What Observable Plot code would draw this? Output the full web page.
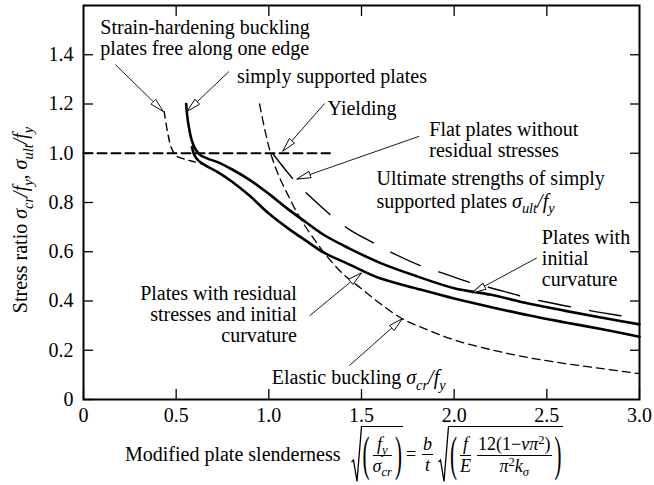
<!DOCTYPE html>
<html><head><meta charset="utf-8">
<script src="https://cdn.jsdelivr.net/npm/d3@7"></script>
<script src="https://cdn.jsdelivr.net/npm/@observablehq/plot@0.6"></script>
<style>
body{margin:0;background:#fff;}
#wrap{position:relative;width:654px;height:485px;font-family:"Liberation Serif","Times New Roman",Times,serif;color:#000;}
#xlab{position:absolute;left:125px;top:426px;height:57px;display:flex;align-items:center;font-size:20px;white-space:nowrap;}
.sq{display:flex;align-items:flex-start;height:57px;}
.sq svg{display:block;flex:none}
.rc{display:flex;align-items:center;height:56px;border-top:1.3px solid #000;padding:0 1px}
.p{display:inline-block;font-size:21px;transform:scaleY(2.3);line-height:1;}
.fr{display:inline-flex;flex-direction:column;align-items:stretch;font-size:18px;line-height:1.12;text-align:center;margin:0 3px}
.fr .n{border-bottom:1px solid #000;padding:0 1px}
sub{font-size:0.7em;vertical-align:-0.3em;line-height:0;font-style:italic}
sup{font-size:0.7em;vertical-align:0.45em;line-height:0}
.eq{margin:0 3px;font-size:18px}
</style></head><body>
<div id="wrap">
<div id="xlab">
 <span class="t">Modified plate slenderness</span>
 <span class="sq" style="margin-left:10px">
   <svg width="11" height="57" viewBox="0 0 11 57"><path d="M0.5,36 L2.5,34 L6,55.5 L10.5,0.7 L11,0.7" fill="none" stroke="#000" stroke-width="1.3"/></svg>
   <span class="rc">
     <span class="p">(</span>
     <span class="fr"><span class="n"><i>f</i><sub>y</sub></span><span class="d"><i>σ</i><sub>cr</sub></span></span>
     <span class="p">)</span>
   </span>
 </span>
 <span class="eq">=</span>
 <span class="fr"><span class="n"><i>b</i></span><span class="d"><i>t</i></span></span>
 <span class="sq" style="margin-left:2px">
   <svg width="11" height="57" viewBox="0 0 11 57"><path d="M0.5,36 L2.5,34 L6,55.5 L10.5,0.7 L11,0.7" fill="none" stroke="#000" stroke-width="1.3"/></svg>
   <span class="rc">
     <span class="p">(</span>
     <span class="fr"><span class="n"><i>f</i></span><span class="d"><i>E</i></span></span>
     <span class="fr"><span class="n">12(1−<i>νπ</i><sup>2</sup>)</span><span class="d"><i>π</i><sup>2</sup><i>k</i><sub>σ</sub></span></span>
     <span class="p">)</span>
   </span>
 </span>
</div>
</div>
<script>
// ---- ticks ----
const xTicks = [0, 0.5, 1.0, 1.5, 2.0, 2.5, 3.0];
const xTickLabels = ["0", "0.5", "1.0", "1.5", "2.0", "2.5", "3.0"];
const yTicks = [0, 0.2, 0.4, 0.6, 0.8, 1.0, 1.2, 1.4];
const yTickLabels = ["0", "0.2", "0.4", "0.6", "0.8", "1.0", "1.2", "1.4"];

// ---- curves ----
const yieldX = [0, 1.33];
const yieldY = [1.0, 1.0];

const elasticX = [0.95, 0.98, 1.01, 1.05, 1.10, 1.17, 1.25, 1.31, 1.40, 1.50, 1.60, 1.72, 1.85, 2.00, 2.20, 2.40, 2.60, 2.80, 3.00];
const elasticY = [1.20, 1.09, 1.00, 0.915, 0.835, 0.735, 0.645, 0.585, 0.51, 0.45, 0.39, 0.328, 0.285, 0.242, 0.202, 0.170, 0.146, 0.125, 0.105];

const strainX = [0.435, 0.455, 0.475, 0.50, 0.55, 0.60, 0.645];
const strainY = [1.17, 1.08, 1.02, 0.99, 0.975, 0.965, 0.955];

const ultimateX = [1.02, 1.14, 1.22, 1.34, 1.435, 1.58, 1.68, 1.83, 1.93, 2.09, 2.20, 2.36, 2.47, 2.63, 2.74, 2.90];
const ultimateY = [1.00, 0.887, 0.826, 0.745, 0.69, 0.63, 0.59, 0.54, 0.515, 0.474, 0.453, 0.42, 0.40, 0.376, 0.36, 0.34];

const upperX = [0.554, 0.56, 0.57, 0.585, 0.605, 0.63, 0.67, 0.72, 0.80, 0.90, 1.00, 1.10, 1.20, 1.30, 1.43, 1.60, 1.80, 2.00, 2.20, 2.40, 2.60, 2.80, 3.00];
const upperY = [1.20, 1.15, 1.10, 1.05, 1.015, 0.993, 0.978, 0.965, 0.935, 0.89, 0.835, 0.775, 0.72, 0.667, 0.615, 0.555, 0.50, 0.452, 0.425, 0.39, 0.36, 0.332, 0.305];

const lowerX = [0.585, 0.60, 0.62, 0.66, 0.72, 0.80, 0.90, 1.00, 1.10, 1.20, 1.30, 1.43, 1.60, 1.80, 2.00, 2.20, 2.40, 2.60, 2.80, 3.00];
const lowerY = [1.025, 0.99, 0.97, 0.95, 0.925, 0.885, 0.825, 0.755, 0.697, 0.645, 0.595, 0.55, 0.492, 0.45, 0.41, 0.375, 0.342, 0.313, 0.285, 0.255];

// ---- annotations ----
const labelTextsL = ["Strain-hardening buckling\nplates free along one edge", "simply supported plates", "Yielding", "Flat plates without\nresidual stresses", "Ultimate strengths of simply", "supported plates", "Plates with\ninitial\ncurvature", "Elastic buckling"];
const labelXL = [0.091, 0.828, 1.317, 1.866, 1.581, 1.581, 2.473, 1.016];
const labelYL = [1.468, 1.312, 1.182, 1.053, 0.899, 0.806, 0.575, 0.089];
const labelTextsR = ["Plates with residual\nstresses and initial\ncurvature"];
const labelXR = [1.151];
const labelYR = [0.348];

const arrowFromX = [0.172, 0.785, 1.301, 1.812, 2.446, 1.220, 1.435];
const arrowFromY = [1.360, 1.332, 1.202, 1.069, 0.575, 0.340, 0.138];
const arrowToX = [0.430, 0.559, 1.075, 1.151, 2.097, 1.500, 1.720];
const arrowToY = [1.170, 1.170, 1.008, 0.895, 0.433, 0.514, 0.328];

const zip = (xs, ys) => xs.map((x, i) => ({x, y: ys[i]}));
const arrows = arrowFromX.map((x, i) => ({x1: x, y1: arrowFromY[i], x2: arrowToX[i], y2: arrowToY[i]}));
const labelsL = labelTextsL.map((t, i) => ({t, x: labelXL[i], y: labelYL[i]}));
const labelsR = labelTextsR.map((t, i) => ({t, x: labelXR[i], y: labelYR[i]}));

const FONT = "Liberation Serif, Times New Roman, Times, serif";
const svg = Plot.plot({
  width: 654, height: 426,
  marginLeft: 83, marginRight: 15, marginTop: 5, marginBottom: 27,
  x: {domain: [0, 3], label: null},
  y: {domain: [0, 1.6], label: null},
  style: {fontFamily: FONT, fontSize: "20px", color: "#000", background: "#fff", overflow: "visible"},
  marks: [
    Plot.axisX(xTicks, {anchor: "bottom", tickSize: -10, tickPadding: 18, strokeWidth: 1.3, label: null,
      tickFormat: d => xTickLabels[xTicks.indexOf(d)]}),
    Plot.axisX(xTicks.slice(1, -1), {anchor: "top", tickSize: -10, strokeWidth: 1.3, label: null, tickFormat: () => ""}),
    Plot.axisY(yTicks, {anchor: "left", tickSize: -10, tickPadding: 20, strokeWidth: 1.3, label: null,
      tickFormat: d => yTickLabels[yTicks.indexOf(d)]}),
    Plot.axisY(yTicks.slice(1), {anchor: "right", tickSize: -10, strokeWidth: 1.3, label: null, tickFormat: () => ""}),
    Plot.line(zip(yieldX, yieldY), {x: "x", y: "y", stroke: "#000", strokeWidth: 2, strokeDasharray: "9,5"}),
    Plot.line(zip(elasticX, elasticY), {x: "x", y: "y", stroke: "#000", strokeWidth: 1.3, strokeDasharray: "8,5", curve: "catmull-rom"}),
    Plot.line(zip(strainX, strainY), {x: "x", y: "y", stroke: "#000", strokeWidth: 1.4, strokeDasharray: "7,5", curve: "catmull-rom"}),
    Plot.line(zip(ultimateX, ultimateY), {x: "x", y: "y", stroke: "#000", strokeWidth: 1.4, strokeDasharray: "32,20", curve: "catmull-rom"}),
    Plot.line(zip(upperX, upperY), {x: "x", y: "y", stroke: "#000", strokeWidth: 2.6, curve: "catmull-rom"}),
    Plot.line(zip(lowerX, lowerY), {x: "x", y: "y", stroke: "#000", strokeWidth: 2.6, curve: "catmull-rom"}),
    Plot.link(arrows, {x1: "x1", y1: "y1", x2: "x2", y2: "y2", stroke: "#000", strokeWidth: 0.9}),
    Plot.text(labelsL, {x: "x", y: "y", text: "t", textAnchor: "start", lineAnchor: "middle", lineHeight: 1.05, fontSize: 20, fill: "#000"}),
    Plot.text(labelsR, {x: "x", y: "y", text: "t", textAnchor: "end", lineAnchor: "middle", lineHeight: 1.05, fontSize: 20, fill: "#000"}),
    Plot.frame({stroke: "#000", strokeWidth: 2})
  ]
});
document.getElementById("wrap").prepend(svg);
svg.style.display = "block";

const S = d3.select(svg);
// remove empty tick labels of the top/right tick-only axes
S.selectAll("text").filter(function() { return this.textContent === ""; }).remove();

// hollow arrowheads
const defs = S.append("defs");
defs.append("marker").attr("id", "hollow").attr("markerUnits", "userSpaceOnUse")
  .attr("viewBox", "0 0 15 8").attr("refX", 14.5).attr("refY", 4)
  .attr("markerWidth", 15).attr("markerHeight", 8).attr("orient", "auto")
  .append("path").attr("d", "M0.5,0.6 L14.5,4 L0.5,7.4 Z")
  .attr("fill", "#fff").attr("stroke", "#000").attr("stroke-width", 0.9);
S.selectAll('g[aria-label="link"] path').attr("marker-end", "url(#hollow)");

function appendMath(sel, parts, fs) {
  let down = false;
  for (const p of parts) {
    const ts = sel.append("tspan").text(p.t);
    if (p.it) ts.attr("font-style", "italic");
    if (p.sub) {
      ts.attr("font-size", 0.72 * fs);
      if (!down) { ts.attr("dy", 0.28 * fs); down = true; }
    } else if (down) { ts.attr("dy", -0.28 * fs); down = false; }
  }
}
const sigCr = [{t: "\u00a0σ", it: 1}, {t: "cr", it: 1, sub: 1}, {t: "/", it: 1}, {t: "f", it: 1}, {t: "y", it: 1, sub: 1}];
const sigUlt = [{t: "\u00a0σ", it: 1}, {t: "ult", it: 1, sub: 1}, {t: "/", it: 1}, {t: "f", it: 1}, {t: "y", it: 1, sub: 1}];
S.selectAll("text").filter(function() { return this.textContent === "Elastic buckling"; }).each(function() { appendMath(d3.select(this), sigCr, 20); });
S.selectAll("text").filter(function() { return this.textContent === "supported plates"; }).each(function() { appendMath(d3.select(this), sigUlt, 20); });

// y-axis title
const yl = S.append("text").attr("transform", "translate(21,220) rotate(-90)")
  .attr("text-anchor", "middle").attr("dy", "0.32em").attr("font-size", 20).attr("font-family", FONT).attr("fill", "#000");
yl.append("tspan").text("Stress ratio");
appendMath(yl, [{t: "\u00a0σ", it: 1}, {t: "cr", it: 1, sub: 1}, {t: "/", it: 1}, {t: "f", it: 1}, {t: "y", it: 1, sub: 1}, {t: ",\u00a0σ", it: 1}, {t: "ult", it: 1, sub: 1}, {t: "/", it: 1}, {t: "f", it: 1}, {t: "y", it: 1, sub: 1}], 20);
</script>
</body></html>
